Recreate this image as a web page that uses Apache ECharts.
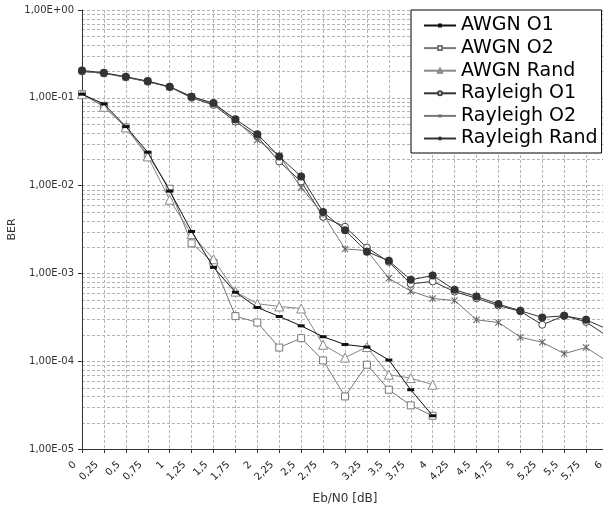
<!DOCTYPE html>
<html>
<head>
<meta charset="utf-8">
<script src="https://cdn.jsdelivr.net/npm/echarts@6/dist/echarts.min.js"></script>
<style>
html,body{margin:0;padding:0;background:#fff;}
#chart{width:603px;height:510px;}
</style>
</head>
<body>
<div id="chart"></div>
<script>
const ebn0 = [0,0.25,0.5,0.75,1,1.25,1.5,1.75,2,2.25,2.5,2.75,3,3.25,3.5,3.75,4,4.25,4.5,4.75,5,5.25,5.5,5.75,6];
const xTickLabels = ['0','0,25','0,5','0,75','1','1,25','1,5','1,75','2','2,25','2,5','2,75','3','3,25','3,5','3,75','4','4,25','4,5','4,75','5','5,25','5,5','5,75','6'];
const yTickLabels = ['1,00E-05','1,00E-04','1,00E-03','1,00E-02','1,00E-01','1,00E+00'];
const seriesNames = ['AWGN O1','AWGN O2','AWGN Rand','Rayleigh O1','Rayleigh O2','Rayleigh Rand'];

const awgnO1 = [0.11,0.085,0.047,0.024,0.0087,0.0030,0.00117,0.00061,0.000409,0.000323,0.000253,0.00019,0.000155,0.000145,0.000103,0.0000473,0.0000239];
const awgnO2 = [0.11,0.081,0.046,0.0224,0.0092,0.0022,0.00132,0.000326,0.000276,0.000143,0.000183,0.000102,0.0000397,0.0000912,0.0000473,0.0000314,0.0000239];
const awgnRand = [0.11,0.079,0.046,0.0215,0.0069,0.0028,0.00145,0.00062,0.000451,0.00042,0.000398,0.000154,0.00011,0.000145,0.0000701,0.0000642,0.000054];
const rayleighO1 = [0.2,0.19,0.172,0.152,0.133,0.1,0.083,0.0536,0.036,0.0188,0.0111,0.0044,0.0034,0.00197,0.00135,0.00076,0.00081,0.00062,0.00052,0.00043,0.00037,0.00026,0.00033,0.00028,0.00019];
const rayleighO2 = [0.2,0.19,0.171,0.153,0.132,0.104,0.085,0.056,0.033,0.022,0.0095,0.0047,0.0019,0.00182,0.00088,0.000628,0.000518,0.000492,0.000296,0.000276,0.000188,0.000164,0.000122,0.000143,0.0000986];
const rayleighRand = [0.205,0.193,0.174,0.155,0.134,0.103,0.087,0.057,0.0385,0.0214,0.0127,0.0050,0.0031,0.00177,0.00139,0.000845,0.000946,0.00065,0.000546,0.000447,0.000375,0.000315,0.000329,0.000296,0.00023];

function pairs(arr){ return arr.map((v,i)=>[ebn0[i], v]); }

// minor log grid values (axis structure: 2..9 x each decade)
const minorGrid = [];
for (let e = -5; e < 0; e++) {
  for (let k = 2; k <= 9; k++) minorGrid.push([k * Math.pow(10, e)]);
}

// asterisk marker built from thin filled bars
const starPath = 'path://M0,1L1,0L10,9L9,10ZM9,0L10,1L1,10L0,9ZM4.4,0L5.6,0L5.6,10L4.4,10Z';
const gridColor = '#b4b4b4';

const chart = echarts.init(document.getElementById('chart'), null, {renderer:'canvas'});
chart.setOption({
  animation: false,
  backgroundColor: '#fff',
  textStyle: {fontFamily: 'DejaVu Sans'},
  grid: {left: 82, top: 10, right: -5, bottom: 61, containLabel: false, outerBoundsMode: 'none'},
  legend: {
    data: seriesNames,
    orient: 'vertical',
    left: 411, top: 10,
    padding: [6, 4, 5, 12],
    itemGap: 3.6,
    itemWidth: 32, itemHeight: 5,
    backgroundColor: '#fff',
    borderColor: '#000', borderWidth: 1, borderRadius: 0,
    textStyle: {fontSize: 19, color: '#000', fontFamily: 'DejaVu Sans'},
    z: 10
  },
  xAxis: {
    type: 'value', min: 0, max: 6, interval: 0.25,
    name: 'Eb/N0 [dB]', nameLocation: 'middle', nameGap: 44, nameMoveOverlap: false,
    nameTextStyle: {fontSize: 12, color: '#333'},
    axisLine: {lineStyle: {color: '#333', width: 1}},
    axisTick: {show: true, length: 4, lineStyle: {color: '#333'}},
    axisLabel: {rotate: 45, fontSize: 10, color: '#222', margin: 7, padding: [0, 10, 0, 0],
      formatter: v => xTickLabels[Math.round(v / 0.25)]},
    splitLine: {show: true, lineStyle: {color: gridColor, type: [3, 2], width: 1}}
  },
  yAxis: {
    type: 'log', logBase: 10, min: 1e-5, max: 1,
    name: 'BER', nameLocation: 'middle', nameGap: 64, nameMoveOverlap: false,
    nameTextStyle: {fontSize: 11, color: '#333'},
    axisLine: {show: true, lineStyle: {color: '#333', width: 1}},
    axisTick: {show: true, length: 4, lineStyle: {color: '#333'}},
    axisLabel: {fontSize: 10, color: '#333', margin: 8,
      formatter: v => yTickLabels[Math.round(Math.log10(v)) + 5]},
    splitLine: {show: true, lineStyle: {color: gridColor, type: [3, 2], width: 1}}
  },
  series: [
    {name: 'grid-minor', type: 'custom', data: minorGrid, z: 0, silent: true,
      encode: {y: 0},
      renderItem: function (params, api) {
        const v = api.value(0);
        const p1 = api.coord([0, v]);
        const p2 = api.coord([6, v]);
        const y = Math.round(p1[1]) + 0.5;
        return {type: 'line', shape: {x1: p1[0], y1: y, x2: p2[0], y2: y},
          style: {stroke: gridColor, lineWidth: 1, lineDash: [3, 2]}};
      }},
    {name: 'AWGN O1', type: 'line', data: pairs(awgnO1), z: 6,
      symbol: 'rect', symbolSize: [7, 3],
      lineStyle: {color: '#111', width: 1},
      itemStyle: {color: '#111', borderColor: '#111', borderWidth: 0}},
    {name: 'AWGN O2', type: 'line', data: pairs(awgnO2), z: 5,
      symbol: 'rect', symbolSize: 7,
      lineStyle: {color: '#777', width: 1},
      itemStyle: {color: '#fff', borderColor: '#777', borderWidth: 1}},
    {name: 'AWGN Rand', type: 'line', data: pairs(awgnRand), z: 5,
      symbol: 'triangle', symbolSize: 9,
      lineStyle: {color: '#888', width: 1},
      itemStyle: {color: '#fff', borderColor: '#888', borderWidth: 1}},
    {name: 'Rayleigh O1', type: 'line', data: pairs(rayleighO1), z: 5,
      symbol: 'circle', symbolSize: 7,
      lineStyle: {color: '#333', width: 1},
      itemStyle: {color: '#fff', borderColor: '#444', borderWidth: 1}},
    {name: 'Rayleigh O2', type: 'line', data: pairs(rayleighO2), z: 5,
      symbol: starPath, symbolSize: 7,
      lineStyle: {color: '#777', width: 1},
      itemStyle: {color: '#666', borderWidth: 0}},
    {name: 'Rayleigh Rand', type: 'line', data: pairs(rayleighRand), z: 6,
      symbol: 'circle', symbolSize: 8,
      lineStyle: {color: '#333', width: 1},
      itemStyle: {color: '#333', borderColor: '#333', borderWidth: 0}}
  ]
});
</script>
</body>
</html>
